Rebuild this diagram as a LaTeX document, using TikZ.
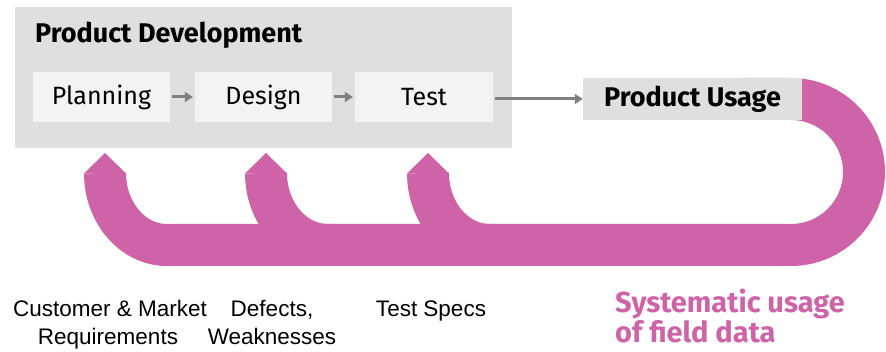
\documentclass[tikz,border=0pt]{standalone}
\usepackage{fontspec}
\setmainfont{Fira Sans}
\newfontfamily\labelfont{Liberation Sans}
\usetikzlibrary{arrows.meta}

\definecolor{fieldpink}{RGB}{207,99,168}
\definecolor{devgray}{RGB}{223,223,223}
\definecolor{phasegray}{RGB}{243,243,243}
\definecolor{flowgray}{RGB}{128,128,128}

\begin{document}
\begin{tikzpicture}[x=1pt,y=-1pt,
  phase/.style={fill=phasegray, minimum width=137pt, minimum height=50pt,
    inner sep=0pt, font=\fontsize{25}{30}\selectfont},
  flow/.style={draw=flowgray, line width=3pt, -{Triangle[length=8pt,width=10pt]}},
  band/.style={draw=fieldpink, line width=42pt},
  source/.style={font=\labelfont\fontsize{22.5}{29}\selectfont, align=center, anchor=base, inner sep=0pt},
  fieldtext/.style={anchor=base west, inner sep=0pt, text=fieldpink, font=\bfseries\fontsize{29}{32}\selectfont}]
\useasboundingbox (0,0) rectangle (886,352);
% feedback loop
\draw [band] (105,173) arc [start angle=180, end angle=90, x radius=62, y radius=72]
  -- (791,245) arc [start angle=90, end angle=-90, radius=73] -- (740,99);
\foreach \x in {266,428}
  \draw [band] (\x,173) arc [start angle=180, end angle=90, x radius=62, y radius=72] -- ++(6,0);
% arrow heads of the loop
\foreach \x in {105,266,428}
  \fill [fieldpink] ({\x-21},173.5) -- (\x,153) -- ({\x+21},173.5) -- cycle;
% development phases
\node (dev) [fill=devgray, minimum width=497pt, minimum height=141pt, anchor=north west] at (15,7) {};
\node (devtitle) [anchor=base west, inner sep=0pt, font=\bfseries\fontsize{27}{32}\selectfont] at (35,43) {Product Development};
\node (plan) [phase] at (101.5,97) {Planning};
\node (design) [phase] at (263.5,97) {Design};
\node (test) [phase, minimum width=138pt] at (424,97) {Test};
\draw [flow, shorten <=2pt, shorten >=2pt] (plan) -- (design);
\draw [flow, shorten <=2pt, shorten >=2pt] (design) -- (test);
% usage
\node (usage) [fill=devgray, minimum width=219pt, minimum height=42pt, font=\bfseries\fontsize{27}{32}\selectfont] at (692.5,99) {Product Usage};
\draw [flow, shorten <=2pt] (test.east |- usage.west) -- (usage.west);
% labels under the loop
\node (req) [source] at (110,317) {Customer \& Market};
\node (req2) [source] at (108,345) {Requirements};
\node (defects) [source] at (272,317) {Defects,};
\node (defects2) [source] at (272,345) {Weaknesses};
\node (specs) [source] at (431,317) {Test Specs};
\node (field) [fieldtext] at (615,313) {Systematic usage};
\node (field2) [fieldtext] at (615,343) {of field data};
\end{tikzpicture}
\end{document}
